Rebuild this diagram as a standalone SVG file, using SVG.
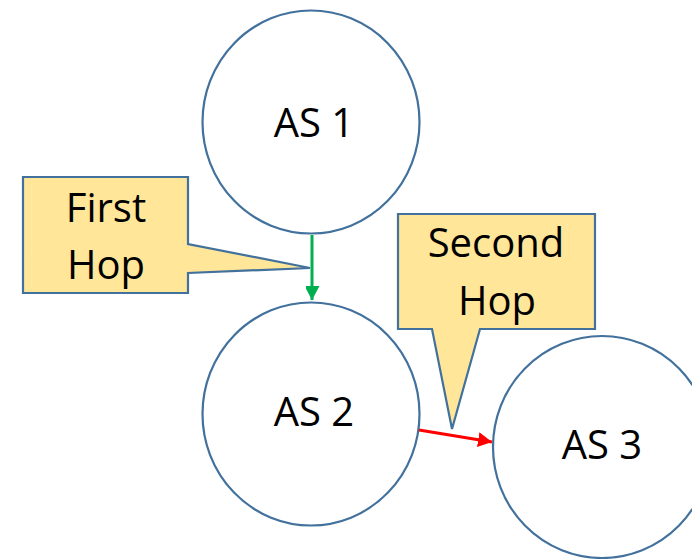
<svg xmlns="http://www.w3.org/2000/svg" width="692" height="559" viewBox="0 0 692 559">
<style>
.node{fill:#FFFFFF;stroke:#41719C;stroke-width:2.2}
.call{fill:#FFE699;stroke:#41719C;stroke-width:2.2;stroke-linejoin:miter}
.lbl{font-family:"Open Sans","Liberation Sans",sans-serif;font-size:40px;fill:#000000;text-anchor:middle}
</style>
<defs>
<marker id="gh" markerUnits="userSpaceOnUse" markerWidth="16" markerHeight="14" refX="14" refY="7.5" orient="auto">
<path d="M0,0 L14,7.5 L0,15 Z" fill="#00B050"/>
</marker>
<marker id="rh" markerUnits="userSpaceOnUse" markerWidth="16" markerHeight="16" refX="14" refY="7.5" orient="auto">
<path d="M0,0 L14,7.5 L0,15 Z" fill="#FF0000"/>
</marker>
</defs>
<rect width="692" height="559" fill="#FFFFFF"/>
<g id="as1">
<ellipse class="node" cx="311" cy="122" rx="108.5" ry="111.5"/>
<text class="lbl" x="314" y="137">AS 1</text>
</g>
<g id="as2">
<ellipse class="node" cx="311" cy="414" rx="108.5" ry="111.5"/>
<text class="lbl" x="314" y="426">AS 2</text>
</g>
<g id="as3">
<ellipse class="node" cx="602" cy="447" rx="109" ry="111"/>
<text class="lbl" x="602" y="459">AS 3</text>
</g>
<g id="connectors">
<line x1="312" y1="235" x2="312" y2="300" stroke="#00B050" stroke-width="3" marker-end="url(#gh)"/>
<line x1="419" y1="430" x2="492" y2="442" stroke="#FF0000" stroke-width="3" marker-end="url(#rh)"/>
</g>
<g id="first-hop">
<path class="call" d="M23,177 L188,177 L188,244 L310,268 L188,273 L188,293 L23,293 Z"/>
<text class="lbl" x="106" y="222">First</text>
<text class="lbl" x="106" y="279">Hop</text>
</g>
<g id="second-hop">
<path class="call" d="M398,214 L595,214 L595,329 L480,329 L452,429 L432,329 L398,329 Z"/>
<text class="lbl" x="496" y="257">Second</text>
<text class="lbl" x="497" y="315">Hop</text>
</g>
</svg>
